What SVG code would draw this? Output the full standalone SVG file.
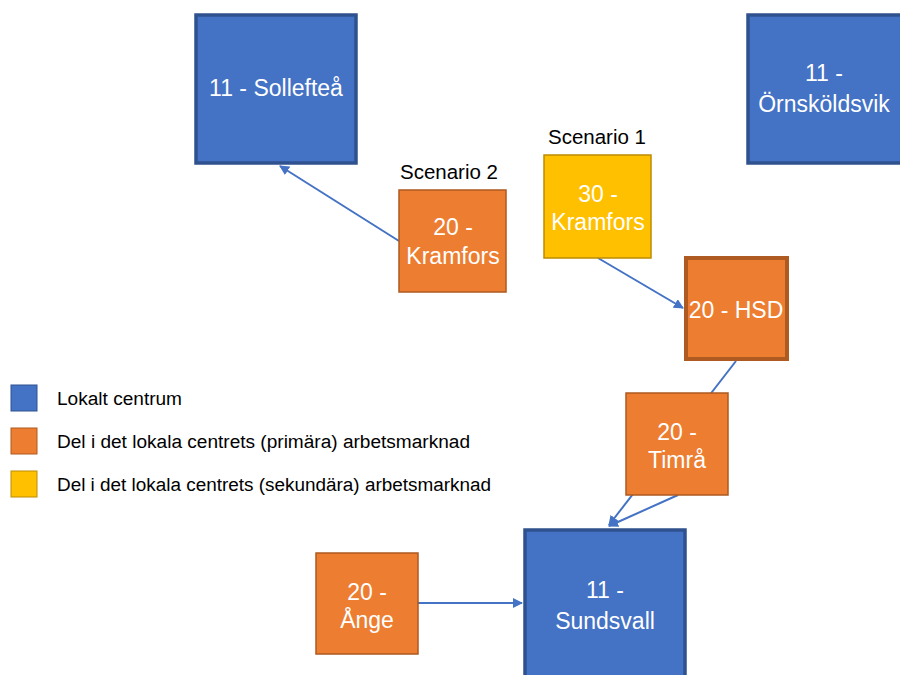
<svg xmlns="http://www.w3.org/2000/svg" width="900" height="675" viewBox="0 0 900 675">
<defs>
<style>
.blue{fill:#4472C4;stroke:#2F528F;stroke-width:3.5}
.org{fill:#ED7D31;stroke:#AE5A21;stroke-width:1.5}
.orgb{fill:#ED7D31;stroke:#AE5A21;stroke-width:4}
.yel{fill:#FFC000;stroke:#BC8C00;stroke-width:1.5}
.lbl{font-family:"Liberation Sans",Arial,sans-serif;font-size:23px;fill:#fff;text-anchor:middle}
.cap{font-family:"Liberation Sans",Arial,sans-serif;font-size:20.5px;fill:#000;text-anchor:middle}
.leg{font-family:"Liberation Sans",Arial,sans-serif;font-size:18px;fill:#000}
.con{stroke:#4472C4;stroke-width:2;fill:none}
</style>
<marker id="arr" viewBox="0 0 10 10" refX="9" refY="5" markerWidth="5" markerHeight="5" orient="auto-start-reverse" markerUnits="strokeWidth">
<path d="M0,0 L10,5 L0,10 z" fill="#4472C4"/>
</marker>
</defs>
<rect width="900" height="675" fill="#fff"/>
<g id="connectors">
<line class="con" x1="399" y1="241" x2="280" y2="166" marker-end="url(#arr)"/>
<line class="con" x1="598" y1="258" x2="683" y2="308" marker-end="url(#arr)"/>
<line class="con" x1="736" y1="361" x2="609" y2="525" marker-end="url(#arr)"/>
<line class="con" x1="678" y1="495" x2="609" y2="526" marker-end="url(#arr)"/>
<line class="con" x1="418" y1="603" x2="522" y2="603" marker-end="url(#arr)"/>
</g>
<g id="solleftea">
<rect class="blue" x="196" y="15" width="160" height="148"/>
<text class="lbl" x="276" y="96">11 - Sollefteå</text>
</g>
<g id="ornskoldsvik">
<rect class="blue" x="748" y="15" width="160" height="148"/>
<text class="lbl" x="824" y="81">11 -</text>
<text class="lbl" x="824" y="112">Örnsköldsvik</text>
</g>
<g id="kramfors20">
<text class="cap" x="449" y="179">Scenario 2</text>
<rect class="org" x="399" y="190" width="107" height="102"/>
<text class="lbl" x="453" y="235">20 -</text>
<text class="lbl" x="453" y="264">Kramfors</text>
</g>
<g id="kramfors30">
<text class="cap" x="597" y="144">Scenario 1</text>
<rect class="yel" x="544" y="155" width="107" height="103"/>
<text class="lbl" x="598" y="202">30 -</text>
<text class="lbl" x="598" y="230">Kramfors</text>
</g>
<g id="hsd">
<rect class="orgb" x="686" y="258" width="101" height="101"/>
<text class="lbl" x="736" y="318">20 - HSD</text>
</g>
<g id="timra">
<rect class="org" x="626" y="393" width="102" height="102"/>
<text class="lbl" x="677" y="440">20 -</text>
<text class="lbl" x="677" y="468">Timrå</text>
</g>
<g id="ange">
<rect class="org" x="316" y="553" width="102" height="101"/>
<text class="lbl" x="367" y="600">20 -</text>
<text class="lbl" x="367" y="628">Ånge</text>
</g>
<g id="sundsvall">
<rect class="blue" x="525" y="530" width="160" height="160"/>
<text class="lbl" x="605" y="598">11 -</text>
<text class="lbl" x="605" y="629">Sundsvall</text>
</g>
<g id="legend">
<rect x="11" y="385" width="26" height="26" fill="#4472C4" stroke="#2F528F" stroke-width="1"/>
<text class="leg" x="57" y="405" textLength="125" lengthAdjust="spacingAndGlyphs">Lokalt centrum</text>
<rect x="11" y="428" width="26" height="26" fill="#ED7D31" stroke="#AE5A21" stroke-width="1"/>
<text class="leg" x="57" y="448" textLength="413" lengthAdjust="spacingAndGlyphs">Del i det lokala centrets (primära) arbetsmarknad</text>
<rect x="11" y="471" width="26" height="26" fill="#FFC000" stroke="#BC8C00" stroke-width="1"/>
<text class="leg" x="57" y="491" textLength="434" lengthAdjust="spacingAndGlyphs">Del i det lokala centrets (sekundära) arbetsmarknad</text>
</g>
</svg>
